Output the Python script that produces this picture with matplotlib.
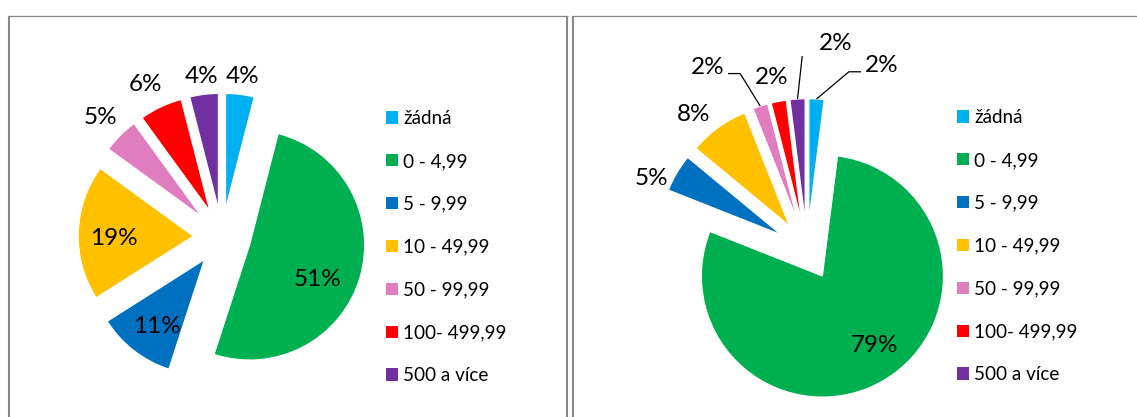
import matplotlib.pyplot as plt
import numpy as np
from matplotlib.lines import Line2D
from matplotlib.patches import Patch

plt.rcParams['font.family'] = ['Lato', 'DejaVu Sans']

categories = ["žádná", "0 - 4,99", "5 - 9,99", "10 - 49,99", "50 - 99,99", "100- 499,99", "500 a více"]
colors = ["#00B0F0", "#00B050", "#0070C0", "#FFC000", "#E07CC0", "#FF0000", "#7030A0"]
left_values = [4, 51, 11, 19, 5, 6, 4]
right_values = [2, 79, 5, 8, 2, 2, 2]

W, H = 1137, 417
fig = plt.figure(figsize=(W / 100, H / 100), dpi=100)
LIM = 1.6


def pie_axes(cx, cy, r):
    # cx, cy, r in pixels from the top-left corner
    size = 2 * LIM * r
    return fig.add_axes([(cx - size / 2) / W, (H - cy - size / 2) / H, size / W, size / H])


def draw_pie(ax, values, dists, nudges, leaders):
    wedges, _ = ax.pie(values, colors=colors, startangle=90, counterclock=False,
                       explode=[0.25] * len(values),
                       wedgeprops=dict(edgecolor="white", linewidth=0.8))
    ax.set_aspect("auto")
    ax.set_xlim(-LIM, LIM)
    ax.set_ylim(-LIM, LIM)
    total = sum(values)
    for w, v, d, n, lead in zip(wedges, values, dists, nudges, leaders):
        mid = np.deg2rad((w.theta1 + w.theta2) / 2)
        lab = mid + np.deg2rad(n)
        x = w.center[0] + d * np.cos(lab)
        y = w.center[1] + d * np.sin(lab)
        ax.text(x, y, f"{round(100 * v / total)}%", ha="center", va="center_baseline",
                fontsize=17.5, color="#000000")
        if lead:
            sx = w.center[0] + w.r * np.cos(mid)
            sy = w.center[1] + w.r * np.sin(mid)
            side = 1 if x > sx else -1
            ex = x - side * 0.17
            ey = y - 0.07
            bx = ex - side * 0.1
            ax.plot([sx, bx, ex], [sy, ey, ey], color="black", lw=0.9, solid_capstyle="butt")
    return wedges


def legend(ax, x_px, y_px):
    handles = [Patch(facecolor=c, edgecolor="none") for c in colors]
    ax.legend(handles, categories, loc="upper left",
              bbox_to_anchor=(x_px / W, 1 - y_px / H), bbox_transform=fig.transFigure,
              frameon=False, fontsize=13.6, handlelength=0.64, handleheight=0.64,
              handletextpad=0.27, labelspacing=1.37, borderpad=0, borderaxespad=0)


# left chart
ax1 = pie_axes(222, 237, 115)
draw_pie(ax1, left_values,
         dists=[1.17, 0.65, 0.695, 0.69, 1.246, 1.248, 1.17],
         nudges=[0, -9.3, 1.8, 1.8, 0, 1.5, 0],
         leaders=[False] * 7)
legend(ax1, 386, 110)

# right chart
ax2 = pie_axes(807, 250, 121)
draw_pie(ax2, right_values,
         dists=[1.426, 0.702, 1.173, 1.224, 1.49, 1.225, 1.493],
         nudges=[-21.3, 7.1, 6.5, 4.4, 12, 0.7, -13.3],
         leaders=[True, False, False, False, True, False, True])
legend(ax2, 957, 109)

# panel borders
grey = "#8A8A8A"


def hline(x0, x1, y, lw):
    fig.add_artist(Line2D([x0 / W, x1 / W], [1 - y / H, 1 - y / H], color=grey, lw=lw,
                          solid_capstyle="butt"))


def vline(x, y0, y1, lw):
    fig.add_artist(Line2D([x / W, x / W], [1 - y0 / H, 1 - y1 / H], color=grey, lw=lw,
                          solid_capstyle="butt"))


hline(8, 568, 15.5, 0.9)
vline(9, 15.5, 420, 1.5)
vline(567, 15.5, 420, 1.5)
hline(572, 1140, 15.5, 0.9)
vline(573, 15.5, 420, 1.5)

fig.savefig("out.png", dpi=100)
